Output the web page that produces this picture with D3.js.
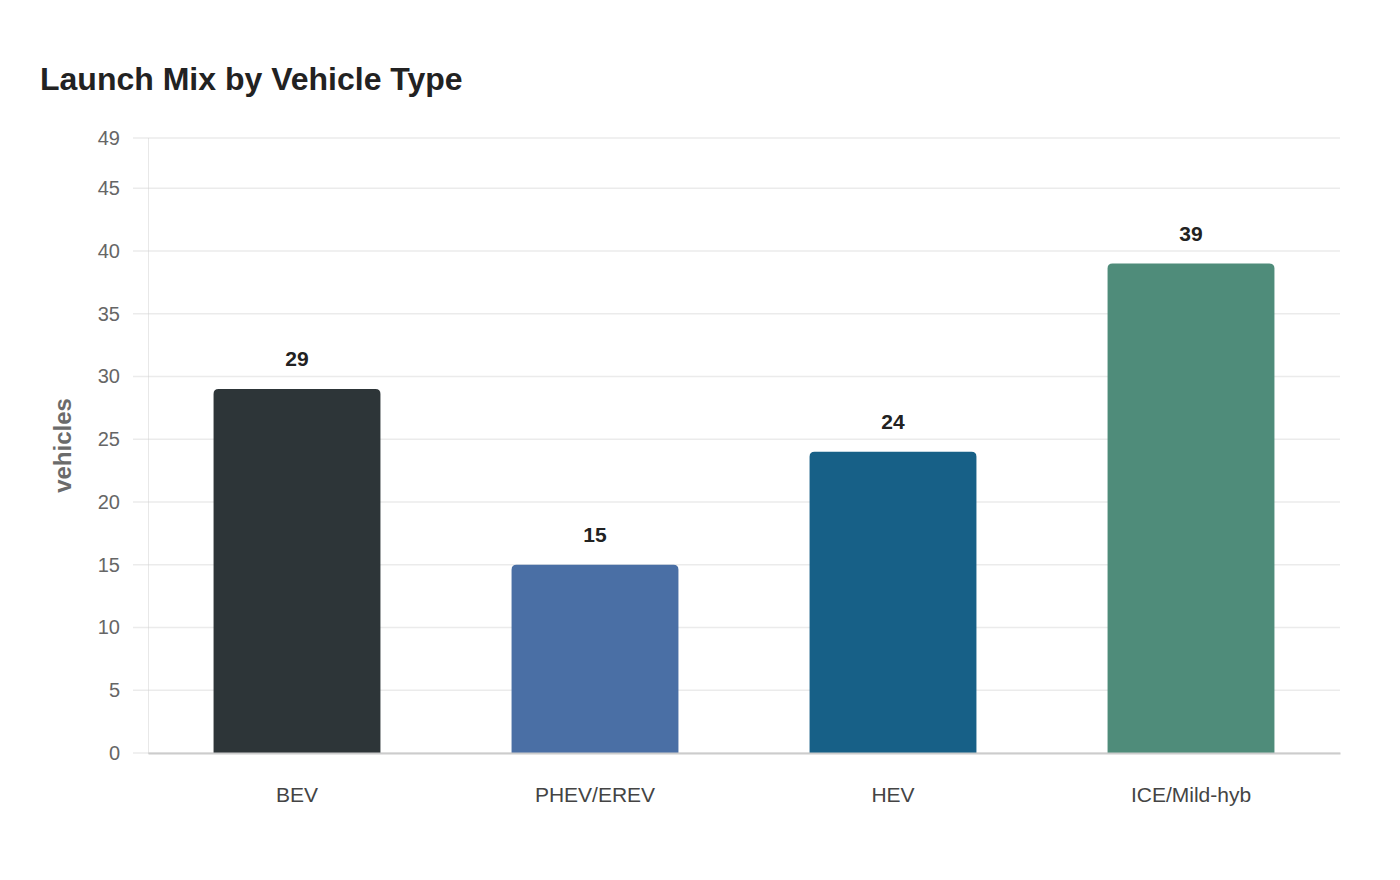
<!DOCTYPE html>
<html>
<head>
<meta charset="utf-8">
<script src="https://cdn.jsdelivr.net/npm/d3@7"></script>
<style>
  body { margin: 0; background: #fff; }
  svg { font-family: "Liberation Sans", Arial, sans-serif; }
</style>
</head>
<body>
<svg id="chart" width="1400" height="880"></svg>
<script>
// data
var categories = ["BEV", "PHEV/EREV", "HEV", "ICE/Mild-hyb"];
var values = [29, 15, 24, 39];
var barColors = ["#2d3538", "#4a6fa5", "#176087", "#4f8c7a"];
var yTicks = [0, 5, 10, 15, 20, 25, 30, 35, 40, 45, 49];

var svg = d3.select("#chart");
var margin = {top: 138, right: 60, bottom: 127, left: 148};
var width = 1400 - margin.left - margin.right;
var height = 880 - margin.top - margin.bottom;

svg.append("text")
    .attr("x", 40)
    .attr("y", 90)
    .attr("font-size", "32px")
    .attr("font-weight", "bold")
    .attr("fill", "#222")
    .text("Launch Mix by Vehicle Type");

var g = svg.append("g")
    .attr("transform", "translate(" + margin.left + "," + margin.top + ")");

var x = d3.scaleBand()
    .domain(categories)
    .range([0, width])
    .paddingInner(0.44)
    .paddingOuter(0.22);

var y = d3.scaleLinear()
    .domain([0, 49])
    .range([height, 0]);

// gridlines
g.selectAll(".grid")
    .data(yTicks)
    .enter()
    .append("line")
    .attr("x1", -15)
    .attr("x2", width)
    .attr("y1", function(d) { return y(d); })
    .attr("y2", function(d) { return y(d); })
    .attr("stroke", "#ebebeb")
    .attr("stroke-width", 1.5);

// y axis
var yAxis = g.append("g")
    .call(d3.axisLeft(y).tickValues(yTicks).tickSize(0).tickPadding(28));
yAxis.select(".domain")
    .attr("stroke", "#d0d0d0")
    .attr("stroke-dasharray", "1,1");
yAxis.selectAll("text")
    .attr("font-size", "20px")
    .attr("fill", "#666");

// axis title
svg.append("text")
    .attr("transform", "translate(71," + (margin.top + height / 2) + ") rotate(-90)")
    .attr("text-anchor", "middle")
    .attr("font-size", "24px")
    .attr("font-weight", "bold")
    .attr("fill", "#6b6b6b")
    .text("vehicles");

// bars with rounded top corners
function barPath(x0, y0, w, h, r) {
    return "M" + x0 + "," + (y0 + h) +
        "V" + (y0 + r) +
        "Q" + x0 + "," + y0 + " " + (x0 + r) + "," + y0 +
        "H" + (x0 + w - r) +
        "Q" + (x0 + w) + "," + y0 + " " + (x0 + w) + "," + (y0 + r) +
        "V" + (y0 + h) + "Z";
}

g.selectAll(".bar")
    .data(values)
    .enter()
    .append("path")
    .attr("class", "bar")
    .attr("d", function(d, i) {
        return barPath(x(categories[i]), y(d), x.bandwidth(), height - y(d), 5);
    })
    .attr("fill", function(d, i) { return barColors[i]; });

// value labels
g.selectAll(".val")
    .data(values)
    .enter()
    .append("text")
    .attr("x", function(d, i) { return x(categories[i]) + x.bandwidth() / 2; })
    .attr("y", function(d) { return y(d) - 23; })
    .attr("text-anchor", "middle")
    .attr("font-size", "21px")
    .attr("font-weight", "bold")
    .attr("fill", "#222")
    .text(function(d) { return d; });

// x axis
var xAxis = g.append("g")
    .attr("transform", "translate(0," + height + ")")
    .call(d3.axisBottom(x).tickSize(0).tickPadding(34));
xAxis.select(".domain")
    .attr("stroke", "#cccccc")
    .attr("stroke-width", 2);
xAxis.selectAll("text")
    .attr("font-size", "21px")
    .attr("fill", "#444");
</script>
</body>
</html>
